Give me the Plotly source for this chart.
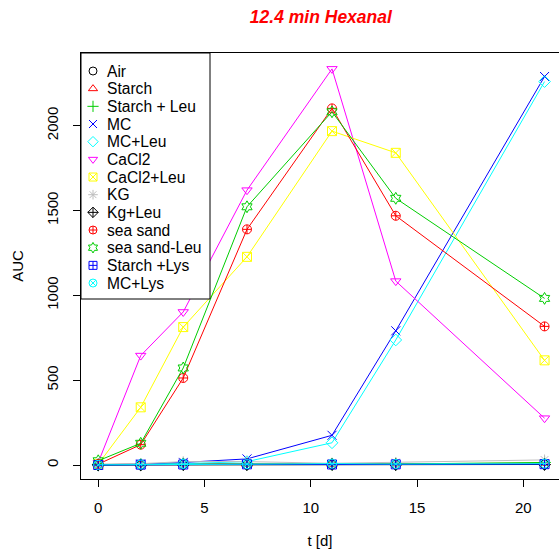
import plotly.graph_objects as go

t = [0, 2, 4, 7, 11, 14, 21]

names = ["Air", "Starch", "Starch + Leu", "MC", "MC+Leu", "CaCl2", "CaCl2+Leu",
         "KG", "Kg+Leu", "sea sand", "sea sand-Leu", "Starch +Lys", "MC+Lys"]

air = [0, 2, 5, 3, 4, 5, 6]
starch = [2, 3, 8, 5, 6, 8, 10]
starch_leu = [3, 4, 6, 6, 5, 6, 15]
mc = [2, 5, 15, 36, 175, 791, 2290]
mc_leu = [1, 3, 8, 20, 131, 737, 2260]
cacl2 = [15, 645, 902, 1620, 2335, 1084, 276]
cacl2_leu = [5, 340, 813, 1227, 1968, 1840, 617]
kg = [5, 8, 20, 20, 10, 15, 30]
kg_leu = [0, 0, 2, 2, 3, 2, 3]
sea_sand = [5, 120, 513, 1389, 2102, 1469, 817]
sea_sand_leu = [25, 128, 572, 1522, 2082, 1572, 982]
starch_lys = [0, 2, 3, 4, 3, 4, 5]
mc_lys = [1, 3, 6, 5, 8, 6, 8]

series = [air, starch, starch_leu, mc, mc_leu, cacl2, cacl2_leu, kg, kg_leu,
          sea_sand, sea_sand_leu, starch_lys, mc_lys]

colors = ["#000000", "#FF0000", "#00CD00", "#0000FF", "#00FFFF", "#FF00FF", "#FFFF00",
          "#BEBEBE", "#000000", "#FF0000", "#00CD00", "#0000FF", "#00FFFF"]
symbols = ["circle-open", "triangle-up-open", "cross-thin-open", "x-thin-open",
           "diamond-open", "triangle-down-open", "square-x-open", "asterisk-open",
           "diamond-cross-open", "circle-cross-open", "hexagram-open",
           "square-cross-open", "circle-x-open"]

font = "Liberation Sans, Arial, sans-serif"

fig = go.Figure()
for n, y, c, s in zip(names, series, colors, symbols):
    fig.add_trace(go.Scatter(x=t, y=y, mode="lines+markers", name=n, showlegend=False,
                             line=dict(color=c, width=1),
                             marker=dict(symbol=s, size=9, color=c, line=dict(color=c, width=1))))

# ---- legend drawn on an overlay pixel-like axis (layout only) ----
LX0, LX1, LY0, LY1 = 81, 210, 53, 299
ROW0, ROWH, MX, TX = 71, 17.67, 93, 105
fig.add_trace(go.Scatter(x=[LX0, LX1, LX1, LX0, LX0], y=[LY0, LY0, LY1, LY1, LY0],
                         xaxis="x2", yaxis="y2", mode="lines", fill="toself",
                         fillcolor="white", line=dict(color="black", width=1),
                         showlegend=False, hoverinfo="skip"))
rows = [ROW0 + i * ROWH for i in range(len(names))]
for i, (n, c, s) in enumerate(zip(names, colors, symbols)):
    fig.add_trace(go.Scatter(x=[MX], y=[rows[i]], xaxis="x2", yaxis="y2", mode="markers",
                             name=n, showlegend=False, hoverinfo="skip",
                             marker=dict(symbol=s, size=8, color=c, line=dict(color=c, width=1))))
    fig.add_annotation(x=TX, y=rows[i], xref="x2", yref="y2", text=n, showarrow=False,
                       xanchor="left", yanchor="middle",
                       font=dict(family=font, size=15.6, color="black"))

fig.update_layout(
    width=559, height=556,
    margin=dict(l=81, r=0, t=53, b=77),
    paper_bgcolor="white", plot_bgcolor="white",
    font=dict(family=font, size=15, color="#000000"),
    title=dict(text="<b><i>12.4 min Hexanal</i></b>", xref="container", x=0.574, xanchor="center",
               yref="container", y=0.969, yanchor="middle",
               font=dict(family=font, size=17.5, color="#FF0000")),
    showlegend=False,
    xaxis=dict(range=[-0.81, 21.68], tickvals=[0, 5, 10, 15, 20], showgrid=False, zeroline=False,
               showline=True, linecolor="black", linewidth=1, mirror=True,
               ticks="outside", ticklen=7, tickcolor="black", ticklabelstandoff=8,
               tickfont=dict(size=15),
               title=dict(text="t [d]", standoff=20, font=dict(size=15))),
    yaxis=dict(range=[-82.5, 2428.5], tickvals=[0, 500, 1000, 1500, 2000], showgrid=False,
               zeroline=False, showline=True, linecolor="black", linewidth=1,
               ticks="outside", ticklen=7, tickcolor="black", tickangle=-90,
               ticklabelstandoff=9, tickfont=dict(size=15),
               title=dict(text="AUC", standoff=16, font=dict(size=15))),
    xaxis2=dict(overlaying="x", range=[81, 559], visible=False, fixedrange=True),
    yaxis2=dict(overlaying="y", range=[479, 53], visible=False, fixedrange=True),
)
fig.write_html("out.html")
